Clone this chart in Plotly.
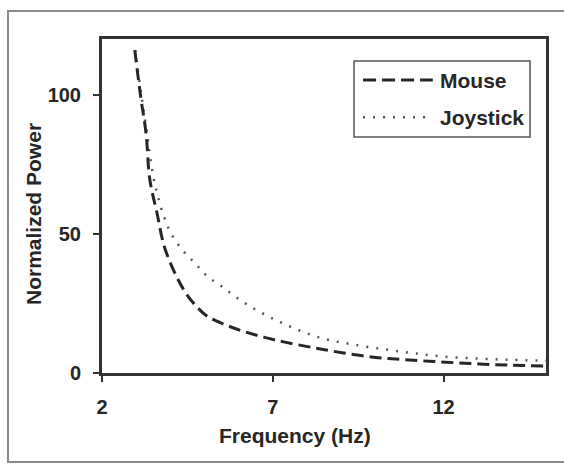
import plotly.graph_objects as go

# values
freq_mouse = [2.96, 3.13, 3.29, 3.40, 3.61, 3.82, 4.13, 4.45, 4.76, 5.08, 5.60, 6.13, 6.76, 7.39, 8.23, 9.07, 10.01, 10.85, 11.9, 12.96, 14.0, 15.0]
power_mouse = [116, 99.5, 86, 69.5, 57.5, 45.6, 36, 28.8, 24, 20.4, 17.4, 15, 12.8, 11, 9, 7.2, 5.6, 4.8, 4.0, 3.3, 2.8, 2.5]

freq_joy = [2.97, 3.15, 3.32, 3.45, 3.61, 3.82, 4.03, 4.34, 4.71, 5.08, 5.50, 6.13, 6.86, 7.60, 8.44, 9.28, 10.22, 11.06, 11.9, 12.96, 14.0, 15.0]
power_joy = [116, 100, 86, 74.3, 64.7, 56, 50, 44.4, 39.6, 34.8, 31.2, 25.5, 20.4, 16.2, 12.5, 10.4, 8.6, 7.2, 6.0, 5.2, 4.7, 4.4]

x_ticks = [2, 7, 12]
y_ticks = [0, 50, 100]

FONT = "Liberation Sans, Arial, sans-serif"
INK = "#262626"
txt = dict(size=21, color=INK, family=FONT, weight="bold")

fig = go.Figure()
fig.add_trace(go.Scatter(x=freq_joy, y=power_joy, mode="lines", name="Joystick",
                         line=dict(color="#555", width=2.5, dash="2px,8px", shape="spline"),
                         showlegend=False))
fig.add_trace(go.Scatter(x=freq_mouse, y=power_mouse, mode="lines", name="Mouse",
                         line=dict(color=INK, width=3, dash="12px,6px", shape="spline"),
                         showlegend=False))

# hand-drawn legend box like the original
fig.add_shape(type="rect", xref="paper", yref="paper", x0=0.5676, x1=0.964, y0=0.7066, y1=0.934,
              line=dict(color="#555", width=1.5), fillcolor="white", layer="below")
fig.add_shape(type="line", xref="paper", yref="paper", x0=0.588, x1=0.745, y0=0.877, y1=0.877,
              line=dict(color=INK, width=3, dash="13px,6px"))
fig.add_shape(type="line", xref="paper", yref="paper", x0=0.588, x1=0.745, y0=0.766, y1=0.766,
              line=dict(color="#555", width=2.5, dash="2px,8px"))
fig.add_annotation(text="Mouse", xref="paper", yref="paper", x=0.757, y=0.877,
                   xanchor="left", yanchor="middle", showarrow=False, font=txt)
fig.add_annotation(text="Joystick", xref="paper", yref="paper", x=0.757, y=0.766,
                   xanchor="left", yanchor="middle", showarrow=False, font=txt)

# axis titles
fig.add_annotation(text="Frequency (Hz)", xref="paper", yref="paper", x=(295 - 102) / 444, y=(373 - 435) / 334,
                   xanchor="center", yanchor="middle", showarrow=False, font=txt)
fig.add_annotation(text="Normalized Power", xref="paper", yref="paper", x=(33 - 102) / 444, y=(373 - 214) / 334,
                   xanchor="center", yanchor="middle", textangle=-90, showarrow=False, font=txt)

# outer frame of the scanned figure
fig.add_shape(type="rect", xref="paper", yref="paper", x0=(8 - 102) / 444, x1=(580 - 102) / 444,
              y0=(373 - 462) / 334, y1=(373 - 11) / 334, line=dict(color="#8a8a8a", width=2), layer="below")

fig.update_layout(
    width=564, height=466,
    margin=dict(l=102, r=18, t=39, b=93),
    paper_bgcolor="white", plot_bgcolor="white",
    font=dict(family=FONT, size=20, color=INK, weight="bold"),
    xaxis=dict(range=[2, 15], tickvals=x_ticks, showgrid=False, zeroline=False,
               showline=True, linewidth=3, linecolor="#333", mirror=True,
               ticks="outside", ticklen=6, tickwidth=1.5, tickcolor="#333",
               ticklabelstandoff=8),
    yaxis=dict(range=[0, 120], tickvals=y_ticks, showgrid=False, zeroline=False,
               showline=True, linewidth=3, linecolor="#333", mirror=True,
               ticks="outside", ticklen=6, tickwidth=1.5, tickcolor="#333",
               ticklabelstandoff=8),
)

# the page body has an 8px margin by default; drop it so the chart sits at 0,0
fig.write_html("out.html", config={"displayModeBar": False},
               post_script="document.body.style.margin='0';document.body.style.overflow='hidden';")
